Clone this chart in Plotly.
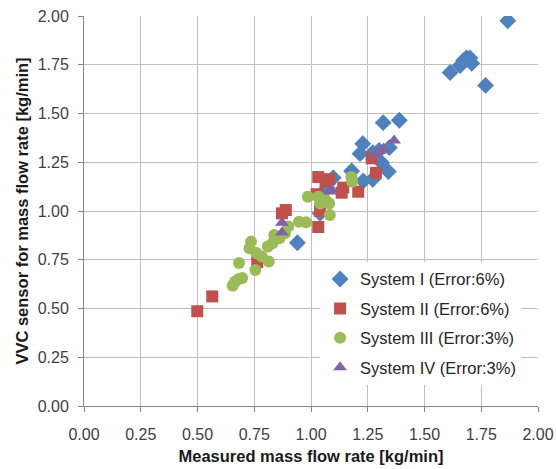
import plotly.graph_objects as go

# System I (blue diamonds)
s1_x = [1.867, 1.613, 1.657, 1.672, 1.685, 1.700, 1.708, 1.769, 1.318, 1.389, 1.228, 1.216,
        1.272, 1.345, 1.311, 1.341, 1.230, 1.272, 1.179, 1.098, 1.059, 0.940, 1.040, 1.300]
s1_y = [1.976, 1.710, 1.746, 1.772, 1.785, 1.785, 1.758, 1.644, 1.453, 1.465, 1.345, 1.294,
        1.299, 1.325, 1.248, 1.202, 1.154, 1.163, 1.205, 1.171, 1.103, 0.837, 0.988, 1.310]

# System II (red squares)
s2_x = [0.499, 0.565, 0.763, 0.872, 0.889, 1.032, 1.040, 1.032, 1.025, 1.081, 1.064,
        1.142, 1.135, 1.208, 1.267, 1.286]
s2_y = [0.486, 0.562, 0.738, 0.988, 1.005, 0.918, 1.000, 1.174, 1.086, 1.163, 1.150,
        1.120, 1.094, 1.099, 1.270, 1.196]

# System III (green circles)
s3_x = [0.655, 0.666, 0.682, 0.697, 0.683, 0.736, 0.729, 0.760, 0.755, 0.814, 0.810, 0.830,
        0.838, 0.861, 0.885, 0.900, 0.947, 0.978, 0.986, 1.040, 1.064, 1.080, 1.083, 1.178,
        1.181, 1.033, 0.783]
s3_y = [0.617, 0.639, 0.651, 0.656, 0.733, 0.843, 0.809, 0.784, 0.698, 0.741, 0.818, 0.835,
        0.877, 0.860, 0.886, 0.920, 0.945, 0.942, 1.073, 1.039, 1.056, 1.039, 0.980, 1.175,
        1.150, 1.073, 0.767]

# System IV (purple triangles)
s4_x = [0.872, 0.872, 1.091, 1.085, 1.282, 1.301, 1.320, 1.366]
s4_y = [0.940, 0.890, 1.110, 1.100, 1.290, 1.308, 1.320, 1.362]

names = ["System I (Error:6%)", "System II (Error:6%)", "System III (Error:3%)", "System IV (Error:3%)"]
colors = ["#4F81BD", "#C0504D", "#9BBB59", "#8064A2"]
symbols = ["diamond", "square", "circle", "triangle-up"]
sizes = [13, 12, 12, 12]

tick_vals = [0, 0.25, 0.5, 0.75, 1.0, 1.25, 1.5, 1.75, 2.0]
tick_text = ["0.00", "0.25", "0.50", "0.75", "1.00", "1.25", "1.50", "1.75", "2.00"]

fig = go.Figure()
for i, (xs, ys) in enumerate([(s1_x, s1_y), (s2_x, s2_y), (s3_x, s3_y), (s4_x, s4_y)]):
    fig.add_trace(go.Scatter(
        x=xs, y=ys, mode="markers", name=names[i], legendgroup=str(i),
        marker=dict(symbol=symbols[i], size=sizes[i], color=colors[i], line=dict(width=0)),
    ))

font = "Liberation Sans, Arial, sans-serif"
fig.update_layout(
    width=556, height=469,
    margin=dict(l=84, r=18, t=16, b=63),
    paper_bgcolor="white", plot_bgcolor="white",
    font=dict(family=font, size=16, color="#404040"),
    showlegend=True,
    legend=dict(
        x=0.52, y=0.37, xanchor="left", yanchor="top",
        bgcolor="white", borderwidth=0,
        font=dict(size=16.5, color="#262626"),
        tracegroupgap=5, itemwidth=30,
    ),
    xaxis=dict(
        range=[0, 2], tickvals=tick_vals, ticktext=tick_text,
        showgrid=True, gridcolor="#BFBFBF", gridwidth=1,
        showline=True, linecolor="#868686", linewidth=1,
        ticks="outside", ticklen=5, tickcolor="#868686",
        ticklabelstandoff=9, automargin=False,
        zeroline=False, mirror=False,
        title=dict(text="<b>Measured mass flow rate [kg/min]</b>", font=dict(size=16.5, color="#1a1a1a"), standoff=8),
    ),
    yaxis=dict(
        range=[0, 2], tickvals=tick_vals, ticktext=tick_text,
        showgrid=True, gridcolor="#BFBFBF", gridwidth=1,
        showline=True, linecolor="#868686", linewidth=1,
        ticks="outside", ticklen=5, tickcolor="#868686",
        ticklabelstandoff=6, automargin=False,
        zeroline=False,
        title=dict(text="<b>VVC sensor for mass flow rate [kg/min]</b>", font=dict(size=16.5, color="#1a1a1a"), standoff=4),
    ),
)

fig.write_html("out.html")
